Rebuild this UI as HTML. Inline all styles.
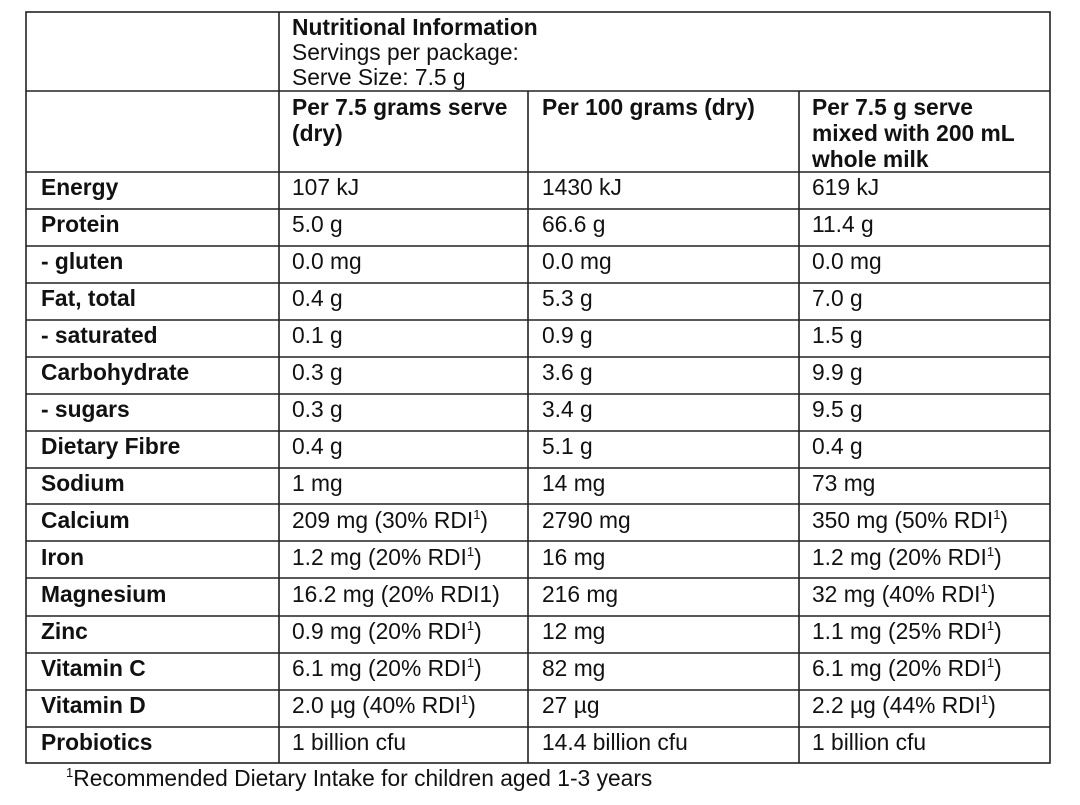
<!DOCTYPE html>
<html><head><meta charset="utf-8"><style>
html,body{margin:0;padding:0;background:#fff;}
svg text{font-family:"Liberation Sans",Arial,sans-serif;font-size:22.8px;fill:#111;}
.b{font-weight:bold;}
</style></head><body>
<svg width="1080" height="800" xmlns="http://www.w3.org/2000/svg">
<g stroke="#222" stroke-width="1.6" fill="none">
<rect x="26" y="12" width="1024" height="751"/>
<line x1="279" y1="12" x2="279" y2="763"/>
<line x1="528" y1="91" x2="528" y2="763"/>
<line x1="799" y1="91" x2="799" y2="763"/>
<line x1="26" y1="91" x2="1050" y2="91"/>
<line x1="26" y1="172" x2="1050" y2="172"/>
<line x1="26" y1="209" x2="1050" y2="209"/>
<line x1="26" y1="246" x2="1050" y2="246"/>
<line x1="26" y1="283" x2="1050" y2="283"/>
<line x1="26" y1="320" x2="1050" y2="320"/>
<line x1="26" y1="357" x2="1050" y2="357"/>
<line x1="26" y1="394" x2="1050" y2="394"/>
<line x1="26" y1="431" x2="1050" y2="431"/>
<line x1="26" y1="468" x2="1050" y2="468"/>
<line x1="26" y1="504" x2="1050" y2="504"/>
<line x1="26" y1="541" x2="1050" y2="541"/>
<line x1="26" y1="578" x2="1050" y2="578"/>
<line x1="26" y1="616" x2="1050" y2="616"/>
<line x1="26" y1="653" x2="1050" y2="653"/>
<line x1="26" y1="690" x2="1050" y2="690"/>
<line x1="26" y1="727" x2="1050" y2="727"/>
</g>
<g transform="translate(0,2)">
<text x="292" y="33" class="b">Nutritional Information</text>
<text x="292" y="58">Servings per package:</text>
<text x="292" y="83">Serve Size: 7.5 g</text>
<text x="292" y="113" class="b">Per 7.5 grams serve</text>
<text x="292" y="139" class="b">(dry)</text>
<text x="542" y="113" class="b">Per 100 grams (dry)</text>
<text x="812" y="113" class="b">Per 7.5 g serve</text>
<text x="812" y="139" class="b">mixed with 200 mL</text>
<text x="812" y="165" class="b">whole milk</text>

<text x="41" y="193" class="b">Energy</text><text x="292" y="193">107 kJ</text><text x="542" y="193">1430 kJ</text><text x="812" y="193">619 kJ</text>
<text x="41" y="230" class="b">Protein</text><text x="292" y="230">5.0 g</text><text x="542" y="230">66.6 g</text><text x="812" y="230">11.4 g</text>
<text x="41" y="267" class="b">- gluten</text><text x="292" y="267">0.0 mg</text><text x="542" y="267">0.0 mg</text><text x="812" y="267">0.0 mg</text>
<text x="41" y="304" class="b">Fat, total</text><text x="292" y="304">0.4 g</text><text x="542" y="304">5.3 g</text><text x="812" y="304">7.0 g</text>
<text x="41" y="341" class="b">- saturated</text><text x="292" y="341">0.1 g</text><text x="542" y="341">0.9 g</text><text x="812" y="341">1.5 g</text>
<text x="41" y="378" class="b">Carbohydrate</text><text x="292" y="378">0.3 g</text><text x="542" y="378">3.6 g</text><text x="812" y="378">9.9 g</text>
<text x="41" y="415" class="b">- sugars</text><text x="292" y="415">0.3 g</text><text x="542" y="415">3.4 g</text><text x="812" y="415">9.5 g</text>
<text x="41" y="452" class="b">Dietary Fibre</text><text x="292" y="452">0.4 g</text><text x="542" y="452">5.1 g</text><text x="812" y="452">0.4 g</text>
<text x="41" y="489" class="b">Sodium</text><text x="292" y="489">1 mg</text><text x="542" y="489">14 mg</text><text x="812" y="489">73 mg</text>
<text x="41" y="526" class="b">Calcium</text><text x="292" y="526">209 mg (30% RDI<tspan font-size="13" dy="-9">1</tspan><tspan dy="9">)</tspan></text><text x="542" y="526">2790 mg</text><text x="812" y="526">350 mg (50% RDI<tspan font-size="13" dy="-9">1</tspan><tspan dy="9">)</tspan></text>
<text x="41" y="563" class="b">Iron</text><text x="292" y="563">1.2 mg (20% RDI<tspan font-size="13" dy="-9">1</tspan><tspan dy="9">)</tspan></text><text x="542" y="563">16 mg</text><text x="812" y="563">1.2 mg (20% RDI<tspan font-size="13" dy="-9">1</tspan><tspan dy="9">)</tspan></text>
<text x="41" y="600" class="b">Magnesium</text><text x="292" y="600">16.2 mg (20% RDI1)</text><text x="542" y="600">216 mg</text><text x="812" y="600">32 mg (40% RDI<tspan font-size="13" dy="-9">1</tspan><tspan dy="9">)</tspan></text>
<text x="41" y="637" class="b">Zinc</text><text x="292" y="637">0.9 mg (20% RDI<tspan font-size="13" dy="-9">1</tspan><tspan dy="9">)</tspan></text><text x="542" y="637">12 mg</text><text x="812" y="637">1.1 mg (25% RDI<tspan font-size="13" dy="-9">1</tspan><tspan dy="9">)</tspan></text>
<text x="41" y="674" class="b">Vitamin C</text><text x="292" y="674">6.1 mg (20% RDI<tspan font-size="13" dy="-9">1</tspan><tspan dy="9">)</tspan></text><text x="542" y="674">82 mg</text><text x="812" y="674">6.1 mg (20% RDI<tspan font-size="13" dy="-9">1</tspan><tspan dy="9">)</tspan></text>
<text x="41" y="711" class="b">Vitamin D</text><text x="292" y="711">2.0 µg (40% RDI<tspan font-size="13" dy="-9">1</tspan><tspan dy="9">)</tspan></text><text x="542" y="711">27 µg</text><text x="812" y="711">2.2 µg (44% RDI<tspan font-size="13" dy="-9">1</tspan><tspan dy="9">)</tspan></text>
<text x="41" y="748" class="b">Probiotics</text><text x="292" y="748">1 billion cfu</text><text x="542" y="748">14.4 billion cfu</text><text x="812" y="748">1 billion cfu</text>
<text x="66" y="784"><tspan font-size="13" dy="-9">1</tspan><tspan dy="9">Recommended Dietary Intake for children aged 1-3 years</tspan></text>
</g>
</svg>
</body></html>
